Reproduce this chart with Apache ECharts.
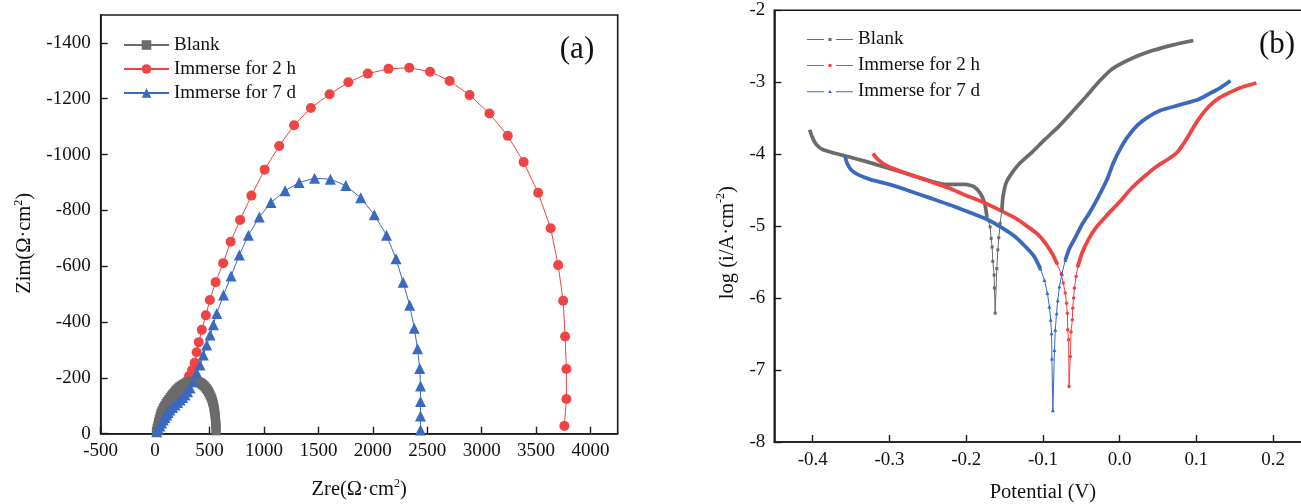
<!DOCTYPE html>
<html><head><meta charset="utf-8">
<script src="https://cdn.jsdelivr.net/npm/echarts@6/dist/echarts.min.js"></script>
<style>html,body{margin:0;padding:0;background:#fff}#c{width:1301px;height:504px}</style>
</head><body><div id="c"></div>
<script>
// ---------- data ----------
const seriesNames = ['Blank', 'Immerse for 2 h', 'Immerse for 7 d'];
const panelLabels = ['(a)', '(b)'];

// Panel (a): Nyquist [Zre, Zim]
const nyquistBlank = [[12,-8],[18,-20],[25,-30],[31,-41],[38,-52],[46,-63],[54,-74],[64,-83],[75,-92],[88,-100],[100,-108],[112,-115],[125,-122],[138,-129],[150,-135],[162,-141],[175,-147],[188,-153],[200,-158],[212,-163],[225,-167],[238,-171],[250,-174],[262,-177],[275,-180],[288,-182],[300,-184],[312,-186],[325,-187],[338,-188],[350,-188],[362,-188],[375,-187],[388,-186],[400,-185],[410,-183],[420,-181],[430,-178],[440,-175],[450,-171],[460,-167],[470,-162],[480,-157],[489,-151],[498,-145],[506,-138],[514,-131],[521,-124],[527,-116],[533,-108],[538,-99],[542,-90],[546,-81],[549,-72],[552,-63],[554,-54],[556,-45],[558,-36],[559,-27],[560,-18],[560,-10]];
const nyquist2h = [[15,-12],[55,-42],[100,-75],[150,-108],[200,-138],[240,-158],[270,-175],[293,-189],[312,-207],[339,-228],[363,-254],[381,-292],[401,-328],[429,-372],[466,-424],[503,-479],[556,-543],[625,-611],[694,-688],[781,-766],[885,-853],[1006,-946],[1140,-1031],[1277,-1105],[1431,-1167],[1603,-1216],[1775,-1259],[1954,-1290],[2144,-1307],[2335,-1311],[2526,-1297],[2706,-1264],[2889,-1213],[3072,-1147],[3240,-1067],[3386,-973],[3519,-863],[3634,-736],[3703,-604],[3749,-476],[3767,-348],[3779,-232],[3779,-124],[3760,-28]];
const nyquist7d = [[15,-7],[30,-17],[45,-28],[60,-38],[75,-49],[90,-58],[107,-67],[120,-76],[137,-85],[160,-94],[183,-103],[206,-112],[229,-121],[252,-130],[275,-139],[298,-150],[321,-164],[351,-186],[382,-218],[413,-246],[443,-282],[474,-318],[505,-354],[535,-390],[566,-431],[629,-497],[698,-565],[774,-640],[857,-711],[957,-776],[1064,-828],[1194,-870],[1323,-900],[1465,-915],[1610,-912],[1752,-889],[1889,-845],[2014,-784],[2126,-711],[2213,-627],[2278,-543],[2339,-460],[2381,-378],[2411,-304],[2431,-234],[2438,-171],[2438,-115],[2438,-63],[2438,-13]];

// Panel (b): Tafel [Potential (V), log i]
const tafelBlank = [[-0.404,-3.66],[-0.401,-3.75],[-0.398,-3.82],[-0.394,-3.88],[-0.388,-3.93],[-0.380,-3.96],[-0.370,-3.99],[-0.352,-4.04],[-0.331,-4.10],[-0.309,-4.17],[-0.287,-4.24],[-0.266,-4.31],[-0.244,-4.38],[-0.233,-4.41],[-0.222,-4.42],[-0.201,-4.42],[-0.190,-4.45],[-0.182,-4.54],[-0.176,-4.68],[-0.173,-4.87],[-0.1688,-5.01],[-0.1675,-5.17],[-0.1662,-5.29],[-0.1653,-5.49],[-0.1636,-5.68],[-0.1632,-5.86],[-0.1623,-6.21],[-0.1601,-5.59],[-0.1588,-5.33],[-0.1575,-5.16],[-0.1558,-4.96],[-0.1536,-4.78],[-0.152,-4.59],[-0.148,-4.40],[-0.141,-4.27],[-0.1305,-4.13],[-0.114,-3.97],[-0.098,-3.80],[-0.079,-3.61],[-0.060,-3.39],[-0.044,-3.20],[-0.025,-2.97],[-0.009,-2.81],[0.0156,-2.67],[0.0428,-2.56],[0.0697,-2.48],[0.0958,-2.42]];
const tafel2h = [[-0.3215,-3.99],[-0.3145,-4.08],[-0.3037,-4.16],[-0.2874,-4.23],[-0.2657,-4.31],[-0.244,-4.39],[-0.2224,-4.47],[-0.2008,-4.57],[-0.1791,-4.66],[-0.1575,-4.77],[-0.1358,-4.89],[-0.1195,-5.01],[-0.106,-5.12],[-0.0952,-5.26],[-0.087,-5.40],[-0.0817,-5.52],[-0.0762,-5.66],[-0.0736,-5.79],[-0.071,-5.93],[-0.0693,-6.07],[-0.0682,-6.21],[-0.0677,-6.44],[-0.0666,-6.58],[-0.066,-7.23],[-0.0644,-6.81],[-0.0634,-6.47],[-0.0617,-6.30],[-0.0612,-6.14],[-0.0601,-6.00],[-0.059,-5.86],[-0.0568,-5.70],[-0.0546,-5.56],[-0.0493,-5.38],[-0.041,-5.19],[-0.0302,-5.01],[-0.0168,-4.85],[0.0,-4.66],[0.0156,-4.47],[0.032,-4.31],[0.048,-4.17],[0.0645,-4.06],[0.0753,-3.97],[0.0834,-3.85],[0.0915,-3.71],[0.1024,-3.52],[0.1158,-3.34],[0.1293,-3.22],[0.1456,-3.13],[0.1618,-3.06],[0.178,-3.01]];
const tafel7d = [[-0.3578,-4.03],[-0.355,-4.13],[-0.3497,-4.22],[-0.3415,-4.28],[-0.3253,-4.35],[-0.3037,-4.41],[-0.282,-4.48],[-0.2604,-4.56],[-0.2387,-4.64],[-0.2171,-4.72],[-0.1954,-4.81],[-0.1738,-4.90],[-0.1522,-5.03],[-0.1358,-5.15],[-0.1223,-5.29],[-0.1115,-5.42],[-0.1034,-5.59],[-0.098,-5.75],[-0.0942,-5.93],[-0.0916,-6.12],[-0.0899,-6.30],[-0.0888,-6.49],[-0.0883,-6.84],[-0.0871,-7.56],[-0.085,-6.72],[-0.0839,-6.44],[-0.0823,-6.21],[-0.0807,-6.03],[-0.0785,-5.84],[-0.0752,-5.66],[-0.0709,-5.47],[-0.0655,-5.31],[-0.0574,-5.15],[-0.0493,-4.98],[-0.0385,-4.80],[-0.0276,-4.59],[-0.0168,-4.36],[-0.0086,-4.13],[0.0,-3.94],[0.0103,-3.76],[0.0238,-3.59],[0.0373,-3.48],[0.0536,-3.39],[0.0698,-3.34],[0.0861,-3.29],[0.1022,-3.24],[0.1185,-3.15],[0.132,-3.07],[0.1444,-2.98]];

// ---------- styles ----------
const FONT = 'Liberation Serif';
const TXT = '#111';
const AX = '#1a1a1a';
const C = { gray: '#6b6b6b', red: '#ee4444', blue: '#3a69c0' };

function splitTafel(data, cut) {
  const thick = data.map(p => p[1] >= cut ? p : [p[0], '-']);
  const first = data.findIndex(p => p[1] < cut);
  let last = -1;
  data.forEach((p, i) => { if (p[1] < cut) last = i; });
  const thin = data.slice(Math.max(0, first - 1), Math.min(data.length, last + 2));
  return { thick, thin };
}

const axisCommon = {
  axisLine: { onZero: false, lineStyle: { color: AX, width: 1.6 } },
  axisTick: { inside: true, length: 7, lineStyle: { color: AX, width: 1.4 } },
  splitLine: { show: false },
  nameLocation: 'middle'
};
const labelStyle = { fontFamily: FONT, fontSize: 19, color: TXT };
const nameStyle = (extra) => Object.assign({
  fontFamily: FONT, fontSize: 20.5, color: TXT, lineHeight: 24,
  rich: { s: { fontFamily: FONT, fontSize: 12, color: TXT, verticalAlign: 'top', lineHeight: 24 } }
}, extra || {});

const tB = splitTafel(tafelBlank, -4.9);
const t2 = splitTafel(tafel2h, -5.6);
const t7 = splitTafel(tafel7d, -5.65);

const legendB = (pathMid) => 'path://M0,1.5h17v1h-17z ' + pathMid + ' M29,1.5h17v1h-17z';

const option = {
  animation: false,
  backgroundColor: '#fff',
  grid: [
    { left: 100.7, top: 15, width: 517, height: 418.7, show: true, borderColor: AX, borderWidth: 1.6, outerBoundsMode: 'none' },
    { left: 774.3, top: 10.3, width: 537.3, height: 431.7, show: true, borderColor: AX, borderWidth: 1.6, outerBoundsMode: 'none' }
  ],
  xAxis: [
    Object.assign({}, axisCommon, {
      gridIndex: 0, type: 'value', min: -500, max: 4250, interval: 500,
      axisLabel: Object.assign({ margin: 8, showMaxLabel: false, formatter: v => String(v) }, labelStyle),
      name: 'Zre(Ω·cm{s|2})', nameGap: 44, nameTextStyle: nameStyle()
    }),
    Object.assign({}, axisCommon, {
      gridIndex: 1, type: 'value', min: -0.45, max: 0.25, splitNumber: 7,
      axisLabel: Object.assign({ margin: 9, showMinLabel: false, showMaxLabel: false,
        formatter: v => Math.abs(v) < 1e-9 ? '0.0' : v.toFixed(1) }, labelStyle),
      name: 'Potential (V)', nameGap: 39, nameTextStyle: nameStyle()
    })
  ],
  yAxis: [
    Object.assign({}, axisCommon, {
      gridIndex: 0, type: 'value', min: -1500, max: 0, splitNumber: 7, inverse: true,
      axisLabel: Object.assign({ margin: 10, showMinLabel: false, formatter: v => String(v) }, labelStyle),
      name: 'Zim(Ω·cm{s|2})', nameGap: 64, nameTextStyle: nameStyle({ padding: [0, 38, 0, 0] })
    }),
    Object.assign({}, axisCommon, {
      gridIndex: 1, type: 'value', min: -8, max: -2, interval: 1,
      axisLabel: Object.assign({ margin: 9, formatter: v => String(v) }, labelStyle),
      name: 'log (i/A·cm{s|-2})', nameGap: 35, nameTextStyle: nameStyle({ padding: [0, 33, 0, 0] })
    })
  ],
  legend: [
    {
      orient: 'vertical', left: 123, top: 35.5, padding: 0, itemWidth: 45, itemHeight: 12, itemGap: 5,
      selectedMode: false, data: seriesNames,
      textStyle: { fontFamily: FONT, fontSize: 19, color: TXT }
    },
    {
      orient: 'vertical', left: 807, top: 30, padding: 0, itemWidth: 46, itemHeight: 3, itemGap: 7,
      selectedMode: false, itemStyle: { borderWidth: 0 }, symbolKeepAspect: false,
      data: [
        { name: seriesNames[0], icon: legendB('M21.5,0.5h3v3h-3z') },
        { name: seriesNames[1], icon: legendB('M21.5,0.5h3v3h-3z') },
        { name: seriesNames[2], icon: legendB('M21,3.5L23,0L25,3.5z') }
      ],
      textStyle: { fontFamily: FONT, fontSize: 19, color: TXT }
    }
  ],
  graphic: [
    { type: 'text', x: 577, y: 50, style: { text: panelLabels[0], font: '31px "Liberation Serif"', fill: TXT, align: 'center', verticalAlign: 'middle', textAlign: 'center', textVerticalAlign: 'middle' } },
    { type: 'text', x: 1277, y: 45, style: { text: panelLabels[1], font: '31px "Liberation Serif"', fill: TXT, align: 'center', verticalAlign: 'middle', textAlign: 'center', textVerticalAlign: 'middle' } }
  ],
  series: [
    { name: seriesNames[1], type: 'line', xAxisIndex: 0, yAxisIndex: 0, data: nyquist2h,
      symbol: 'circle', symbolSize: 10, showAllSymbol: true, color: C.red,
      lineStyle: { width: 1, color: C.red }, itemStyle: { color: C.red, borderWidth: 0 } },
    { name: seriesNames[0], type: 'line', xAxisIndex: 0, yAxisIndex: 0, data: nyquistBlank,
      symbol: 'rect', symbolSize: 9, showAllSymbol: true, color: C.gray,
      lineStyle: { width: 1, color: C.gray }, itemStyle: { color: C.gray, borderWidth: 0 } },
    { name: seriesNames[2], type: 'line', xAxisIndex: 0, yAxisIndex: 0, data: nyquist7d,
      symbol: 'triangle', symbolSize: 11, showAllSymbol: true, color: C.blue,
      lineStyle: { width: 1, color: C.blue }, itemStyle: { color: C.blue, borderWidth: 0 } },

    { name: seriesNames[0], type: 'line', xAxisIndex: 1, yAxisIndex: 1, data: tB.thick, showSymbol: false, smooth: 0.2,
      color: C.gray, lineStyle: { width: 3.7, color: C.gray } },
    { name: seriesNames[0], type: 'line', xAxisIndex: 1, yAxisIndex: 1, data: tB.thin, symbol: 'rect', symbolSize: 3, showAllSymbol: true,
      color: C.gray, lineStyle: { width: 1, color: C.gray }, itemStyle: { color: C.gray, borderWidth: 0 } },
    { name: seriesNames[1], type: 'line', xAxisIndex: 1, yAxisIndex: 1, data: t2.thick, showSymbol: false, smooth: 0.2,
      color: C.red, lineStyle: { width: 3.8, color: C.red } },
    { name: seriesNames[1], type: 'line', xAxisIndex: 1, yAxisIndex: 1, data: t2.thin, symbol: 'circle', symbolSize: 3.5, showAllSymbol: true,
      color: C.red, lineStyle: { width: 1, color: C.red }, itemStyle: { color: C.red, borderWidth: 0 } },
    { name: seriesNames[2], type: 'line', xAxisIndex: 1, yAxisIndex: 1, data: t7.thick, showSymbol: false, smooth: 0.2,
      color: C.blue, lineStyle: { width: 3.8, color: C.blue } },
    { name: seriesNames[2], type: 'line', xAxisIndex: 1, yAxisIndex: 1, data: t7.thin, symbol: 'triangle', symbolSize: 4, showAllSymbol: true,
      color: C.blue, lineStyle: { width: 1, color: C.blue }, itemStyle: { color: C.blue, borderWidth: 0 } }
  ]
};

const chart = echarts.init(document.getElementById('c'), null, { renderer: 'canvas', width: 1301, height: 504 });
chart.setOption(option);
</script>
</body></html>
